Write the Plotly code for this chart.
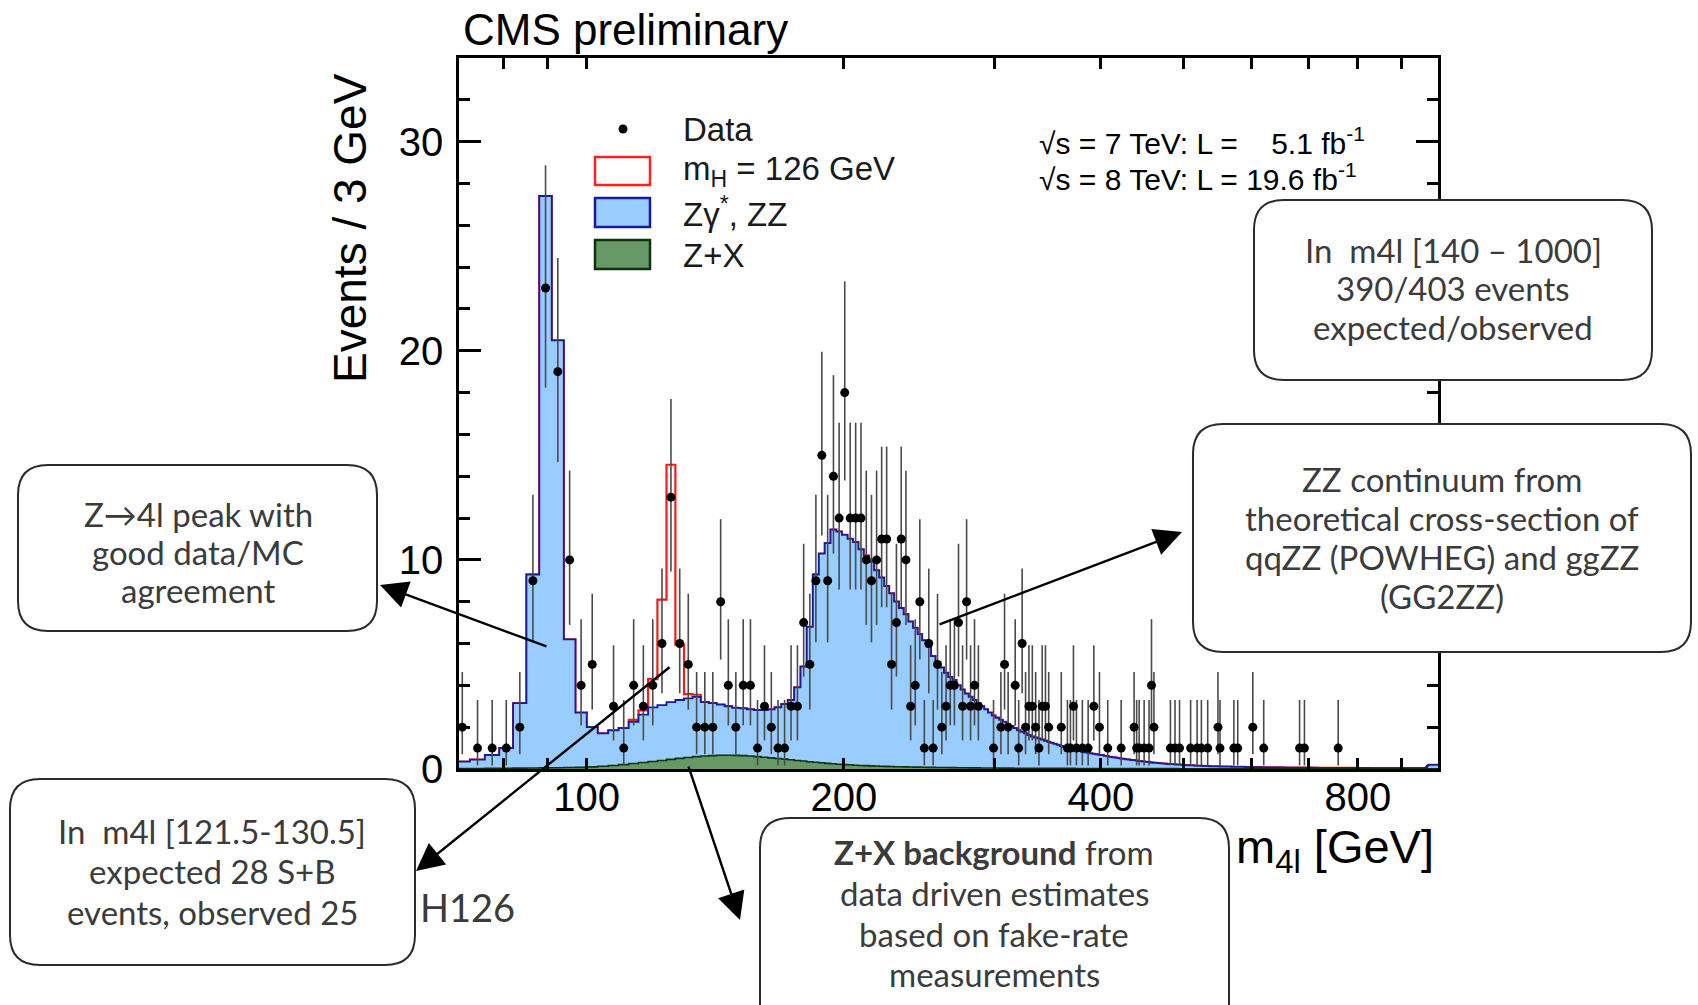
import math
import plotly.graph_objects as go

# ---------------- data ----------------
BIN_LOW = 70.0
BIN_WIDTH = 3.0

# Total background (Zgamma*, ZZ stacked on Z+X), Events / 3 GeV, bins from 70 GeV
bkg_total = [
    # 70 .. 127
    0.35, 0.45, 0.67, 1.0, 3.15, 9.3, 27.4, 20.5, 6.2, 2.7,
    2.0, 1.7, 1.85, 1.95, 2.25, 2.6, 2.95, 3.05, 3.2, 3.3,
    # 130 .. 187
    3.38, 3.45, 3.2, 3.15, 3.08, 3.0, 2.92, 2.9, 2.85, 2.82,
    2.82, 2.85, 2.95, 3.1, 3.3, 3.9, 4.9, 6.8, 9.3, 10.3,
    # 190 .. 247
    10.8, 11.45, 11.35, 11.2, 11.0, 10.85, 10.5, 10.2, 9.9, 9.5,
    9.15, 8.75, 8.4, 8.0, 7.7, 7.4, 7.05, 6.75, 6.45, 6.15,
    # 250 .. 307
    5.85, 5.4, 5.1, 4.85, 4.6, 4.4, 4.25, 4.0, 3.8, 3.6,
    3.45, 3.3, 3.15, 3.0, 2.85, 2.7, 2.55, 2.45, 2.35, 2.25,
    # 310 .. 367
    2.15, 2.05, 1.95, 1.85, 1.78, 1.7, 1.62, 1.55, 1.5, 1.45,
    1.4, 1.35, 1.3, 1.25, 1.2, 1.15, 1.1, 1.05, 1.0, 0.97,
    # 370 .. 427
    0.93, 0.9, 0.86, 0.83, 0.8, 0.77, 0.75, 0.72, 0.7, 0.68,
    0.66, 0.63, 0.61, 0.58, 0.56, 0.54, 0.52, 0.5, 0.48, 0.46,
    # 430 .. 487
    0.45, 0.43, 0.42, 0.4, 0.38, 0.37, 0.35, 0.34, 0.33, 0.31,
    0.30, 0.29, 0.28, 0.27, 0.26, 0.25, 0.24, 0.235, 0.23, 0.22,
    # 490 .. 547
    0.21, 0.205, 0.2, 0.19, 0.185, 0.18, 0.175, 0.17, 0.16, 0.155,
    0.15, 0.145, 0.14, 0.138, 0.135, 0.132, 0.13, 0.127, 0.125, 0.122,
    # 550 .. 607
    0.12, 0.118, 0.116, 0.114, 0.112, 0.11, 0.108, 0.106, 0.104, 0.102,
    0.1, 0.098, 0.097, 0.095, 0.094, 0.092, 0.091, 0.09, 0.088, 0.087,
    # 610 .. 667
    0.086, 0.085, 0.084, 0.083, 0.082, 0.081, 0.08, 0.079, 0.078, 0.077,
    0.076, 0.075, 0.074, 0.073, 0.072, 0.071, 0.07, 0.07, 0.069, 0.068,
    # 670 .. 727
    0.067, 0.067, 0.066, 0.065, 0.065, 0.064, 0.063, 0.063, 0.062, 0.062,
    0.061, 0.061, 0.06, 0.06, 0.059, 0.059, 0.058, 0.058, 0.057, 0.057,
    # 730 .. 787
    0.056, 0.056, 0.056, 0.055, 0.055, 0.054, 0.054, 0.054, 0.053, 0.053,
    0.053, 0.052, 0.052, 0.052, 0.051, 0.051, 0.051, 0.05, 0.05, 0.05,
    # 790 .. 847
    0.05, 0.049, 0.049, 0.049, 0.049, 0.048, 0.048, 0.048, 0.048, 0.047,
    0.047, 0.047, 0.047, 0.047, 0.046, 0.046, 0.046, 0.046, 0.046, 0.045,
    # 850 .. 907
    0.045, 0.045, 0.045, 0.045, 0.045, 0.044, 0.044, 0.044, 0.044, 0.044,
    0.044, 0.043, 0.043, 0.043, 0.043, 0.043, 0.043, 0.042, 0.042, 0.042,
    # 910 .. 967
    0.042, 0.042, 0.042, 0.042, 0.041, 0.041, 0.041, 0.041, 0.041, 0.041,
    0.041, 0.04, 0.04, 0.04, 0.04, 0.04, 0.04, 0.08, 0.15, 0.2,
    # 970 .. 997
    0.2, 0.2, 0.2, 0.2, 0.2, 0.2, 0.2, 0.2, 0.2, 0.2,
]

# Z+X (reducible background), Events / 3 GeV, bins from 70 GeV
zx_bkg = [
    # 70 .. 127
    0.02, 0.02, 0.03, 0.03, 0.04, 0.05, 0.06, 0.06, 0.07, 0.08,
    0.10, 0.13, 0.17, 0.21, 0.26, 0.31, 0.36, 0.41, 0.46, 0.51,
    # 130 .. 187
    0.55, 0.59, 0.62, 0.64, 0.66, 0.66, 0.65, 0.64, 0.62, 0.59,
    0.56, 0.53, 0.5, 0.47, 0.44, 0.41, 0.38, 0.35, 0.32, 0.3,
    # 190 .. 247
    0.27, 0.25, 0.23, 0.21, 0.2, 0.18, 0.17, 0.16, 0.15, 0.14,
    0.13, 0.125, 0.12, 0.11, 0.105, 0.1, 0.095, 0.09, 0.088, 0.085,
    # 250 .. 307
    0.08, 0.078, 0.075, 0.072, 0.07, 0.067, 0.065, 0.062, 0.06, 0.058,
    0.056, 0.054, 0.052, 0.05, 0.049, 0.047, 0.046, 0.045, 0.043, 0.042,
    # 310 .. 367
    0.041, 0.04, 0.039, 0.038, 0.037, 0.036, 0.036, 0.035, 0.034, 0.034,
    0.033, 0.032, 0.032, 0.031, 0.031, 0.03, 0.03, 0.029, 0.029, 0.028,
    # 370 .. 427
    0.028, 0.027, 0.027, 0.026, 0.026, 0.026, 0.025, 0.025, 0.024, 0.024,
    0.024, 0.023, 0.023, 0.023, 0.022, 0.022, 0.022, 0.021, 0.021, 0.021,
    # 430 .. 487
    0.02, 0.02, 0.02, 0.02, 0.019, 0.019, 0.019, 0.019, 0.018, 0.018,
    0.018, 0.018, 0.017, 0.017, 0.017, 0.017, 0.016, 0.016, 0.016, 0.016,
    # 490 .. 547
    0.016, 0.015, 0.015, 0.015, 0.015, 0.015, 0.014, 0.014, 0.014, 0.014,
    0.014, 0.014, 0.013, 0.013, 0.013, 0.013, 0.013, 0.013, 0.012, 0.012,
    # 550 .. 607
    0.012, 0.012, 0.012, 0.012, 0.012, 0.011, 0.011, 0.011, 0.011, 0.011,
    0.011, 0.011, 0.011, 0.01, 0.01, 0.01, 0.01, 0.01, 0.01, 0.01,
    # 610 .. 667
    0.01, 0.01, 0.009, 0.009, 0.009, 0.009, 0.009, 0.009, 0.009, 0.009,
    0.009, 0.009, 0.009, 0.008, 0.008, 0.008, 0.008, 0.008, 0.008, 0.008,
    # 670 .. 727
    0.008, 0.008, 0.008, 0.008, 0.008, 0.007, 0.007, 0.007, 0.007, 0.007,
    0.007, 0.007, 0.007, 0.007, 0.007, 0.007, 0.007, 0.007, 0.007, 0.007,
    # 730 .. 787
    0.007, 0.007, 0.007, 0.007, 0.007, 0.007, 0.007, 0.007, 0.007, 0.007,
    0.007, 0.007, 0.007, 0.007, 0.006, 0.006, 0.006, 0.006, 0.006, 0.006,
    # 790 .. 847
    0.006, 0.006, 0.006, 0.006, 0.006, 0.006, 0.006, 0.006, 0.006, 0.006,
    0.006, 0.006, 0.006, 0.006, 0.006, 0.006, 0.006, 0.006, 0.006, 0.006,
    # 850 .. 907
    0.006, 0.006, 0.006, 0.006, 0.006, 0.006, 0.006, 0.006, 0.006, 0.006,
    0.006, 0.006, 0.006, 0.006, 0.006, 0.006, 0.006, 0.005, 0.005, 0.005,
    # 910 .. 967
    0.005, 0.005, 0.005, 0.005, 0.005, 0.005, 0.005, 0.005, 0.005, 0.005,
    0.005, 0.005, 0.005, 0.005, 0.005, 0.005, 0.005, 0.005, 0.005, 0.005,
    # 970 .. 997
    0.005, 0.005, 0.005, 0.005, 0.005, 0.005, 0.005, 0.005, 0.005, 0.005,
]

# Higgs signal (mH = 126 GeV) stacked on top, bins given by their lower edge
signal_bin_low = [112, 115, 118, 121, 124, 127, 130, 133]
signal_events = [0.1, 0.2, 1.35, 5.05, 11.35, 2.65, 0.2, 0.1]

# Observed data: bin centres (GeV) and event counts
data_mass = [
    71.5, 74.5, 77.5, 80.5, 83.5, 86.5, 89.5, 92.5, 95.5, 98.5,
    101.5, 107.5, 110.5, 113.5, 116.5, 119.5, 122.5, 125.5, 128.5, 131.5,
    134.5, 137.5, 140.5, 143.5, 146.5, 149.5, 152.5, 155.5, 158.5, 161.5,
    164.5, 167.5, 170.5, 173.5, 176.5, 179.5, 182.5, 185.5, 188.5, 191.5,
    194.5, 197.5, 200.5, 203.5, 206.5, 209.5, 212.5, 215.5, 218.5, 221.5,
    224.5, 227.5, 230.5, 233.5, 236.5, 239.5, 242.5, 245.5, 248.5, 251.5,
    254.5, 257.5, 260.5, 263.5, 266.5, 269.5, 272.5, 275.5, 278.5, 281.5,
    284.5, 287.5, 299.5, 305.5, 308.5, 311.5, 317.5, 320.5, 323.5, 326.5,
    329.5, 332.5, 335.5, 338.5, 341.5, 344.5, 347.5, 359.5, 365.5, 368.5,
    371.5, 374.5, 380.5, 386.5, 392.5, 398.5, 407.5, 422.5, 437.5, 440.5,
    443.5, 449.5, 455.5, 458.5, 461.5, 482.5, 488.5, 494.5, 509.5, 518.5,
    524.5, 533.5, 548.5, 551.5, 572.5, 578.5, 602.5, 620.5, 683.5, 692.5,
    758.5,
]
data_count = [
    2, 1, 1, 1, 2, 9, 23, 19, 10, 4,
    5, 3, 1, 4, 3, 4, 6, 13, 6, 5,
    2, 2, 2, 8, 4, 2, 4, 4, 1, 3,
    2, 1, 1, 3, 3, 7, 5, 9, 15, 9,
    14, 12, 18, 12, 12, 12, 10, 9, 10, 11,
    11, 5, 7, 11, 10, 3, 4, 8, 1, 6,
    1, 5, 2, 3, 4, 4, 7, 3, 8, 3,
    4, 3, 1, 2, 5, 2, 4, 1, 6, 2,
    3, 3, 2, 1, 3, 3, 2, 2, 1, 1,
    3, 1, 1, 1, 3, 2, 1, 1, 2, 1,
    1, 1, 1, 4, 2, 1, 1, 1, 1, 1,
    1, 1, 2, 1, 1, 1, 2, 1, 1, 1,
    1,
]

x_tick_labels = ["100", "200", "400", "800"]
x_tick_values = [100, 200, 400, 800]
x_minor_values = [80, 90, 300, 500, 600, 700, 900]
y_tick_values = [0, 10, 20, 30]

# ---------------- derived ----------------
n_bins = len(bkg_total)
edges = [BIN_LOW + BIN_WIDTH * i for i in range(n_bins + 1)]
signal_full = [0.0] * n_bins
for lo, v in zip(signal_bin_low, signal_events):
    signal_full[int(round((lo - BIN_LOW) / BIN_WIDTH))] = v
sig_total = [b + s for b, s in zip(bkg_total, signal_full)]


def pois_cdf(k, mu):
    term = math.exp(-mu)
    s = term
    for i in range(1, k + 1):
        term *= mu / i
        s += term
    return s


def garwood(n, a=0.158655):
    lo, hi = float(n), n + 10 * math.sqrt(n + 1) + 10
    for _ in range(80):
        mid = 0.5 * (lo + hi)
        if pois_cdf(n, mid) > a:
            lo = mid
        else:
            hi = mid
    up = lo
    if n == 0:
        low = 0.0
    else:
        lo, hi = 0.0, float(n)
        for _ in range(80):
            mid = 0.5 * (lo + hi)
            if 1 - pois_cdf(n - 1, mid) < a:
                lo = mid
            else:
                hi = mid
        low = lo
    return low, up


err_plus, err_minus = [], []
for n in data_count:
    lo, up = garwood(n)
    err_plus.append(up - n)
    err_minus.append(n - lo)


def step(vals):
    return edges, list(vals) + [vals[-1]]


# ---------------- figure ----------------
W_FIG, H_FIG = 1698, 1005
L, R, T, B = 459, 1438, 58, 769
PW, PH = R - L, B - T


def px(x):
    return (x - L) / PW


def py(y):
    return (B - y) / PH


XR = [math.log10(70.87), math.log10(992.7)]

fig = go.Figure()

ex, ey = step(sig_total)
fig.add_trace(go.Scatter(x=ex, y=ey, mode="lines", line=dict(color="#ff1a1a", width=2.2, shape="hv"),
                         hoverinfo="skip", showlegend=False))
ex, ey = step(bkg_total)
fig.add_trace(go.Scatter(x=ex, y=ey, mode="lines", line=dict(color="#1a1a99", width=1.8, shape="hv"),
                         fill="tozeroy", fillcolor="#99ccff", hoverinfo="skip", showlegend=False))
ex, ey = step(zx_bkg)
fig.add_trace(go.Scatter(x=ex, y=ey, mode="lines", line=dict(color="#0d330d", width=1.6, shape="hv"),
                         fill="tozeroy", fillcolor="#669966", hoverinfo="skip", showlegend=False))
fig.add_trace(go.Scatter(
    x=data_mass, y=data_count, mode="markers",
    marker=dict(color="black", size=9),
    error_y=dict(type="data", symmetric=False, array=err_plus, arrayminus=err_minus,
                 width=0, thickness=1.6, color="#4a4a4a"),
    showlegend=False, hoverinfo="skip"))

TICKFONT = dict(family="Liberation Sans, Arial, sans-serif", size=40, color="black")

fig.update_layout(
    width=W_FIG, height=H_FIG,
    margin=dict(l=L, r=W_FIG - R, t=T, b=H_FIG - B),
    paper_bgcolor="white", plot_bgcolor="white",
    showlegend=False,
    xaxis=dict(type="log", range=XR, showgrid=False, zeroline=False,
               showline=True, linecolor="black", linewidth=2.5, mirror="allticks",
               tickmode="array", tickvals=x_tick_values, ticktext=x_tick_labels,
               ticks="inside", ticklen=11, tickwidth=2.5, tickcolor="black",
               minor=dict(tickmode="array", tickvals=x_minor_values, ticks="inside",
                          ticklen=11, tickwidth=2.5, tickcolor="black", showgrid=False),
               tickfont=TICKFONT, ticklabelstandoff=-9),
    xaxis2=dict(type="log", range=XR, overlaying="x", anchor="y", side="bottom",
                showgrid=False, zeroline=False, showline=False,
                tickmode="array", tickvals=[100], ticks="inside", ticklen=26, tickwidth=2.5,
                tickcolor="black", showticklabels=False),
    xaxis3=dict(type="log", range=XR, overlaying="x", anchor="y", side="top",
                showgrid=False, zeroline=False, showline=False,
                tickmode="array", tickvals=[100], ticks="inside", ticklen=26, tickwidth=2.5,
                tickcolor="black", showticklabels=False),
    yaxis=dict(range=[0, 34], showgrid=False, zeroline=False,
               showline=True, linecolor="black", linewidth=2.5, mirror="allticks",
               tickmode="array", tickvals=y_tick_values,
               ticks="inside", ticklen=22, tickwidth=2.5, tickcolor="black",
               minor=dict(dtick=2, ticks="inside", ticklen=11, tickwidth=2.5,
                          tickcolor="black", showgrid=False),
               tickfont=TICKFONT, ticklabelstandoff=5),
)

shapes = []
annotations = []

# legend (drawn manually to match the ROOT style)
shapes.append(dict(type="circle", xref="paper", yref="paper", xsizemode="pixel", ysizemode="pixel",
                   xanchor=px(623), yanchor=py(129), x0=-4.5, x1=4.5, y0=-4.5, y1=4.5,
                   fillcolor="black", line=dict(color="black", width=0)))
legend_boxes = [
    (157, 185, "white", "#ff2020"),
    (198, 227, "#99ccff", "#1a1a99"),
    (240, 269, "#669966", "#0d330d"),
]
for y0, y1, fc, lc in legend_boxes:
    shapes.append(dict(type="rect", xref="paper", yref="paper",
                       x0=px(595), x1=px(650), y0=py(y1), y1=py(y0),
                       fillcolor=fc, line=dict(color=lc, width=2.5)))
LEGFONT = dict(family="Liberation Sans, Arial, sans-serif", size=33, color="#1a1a1a")
for txt, yc in [("Data", 129), ("m<sub>H</sub> = 126 GeV", 171),
                ("Zγ<sup>*</sup>, ZZ", 212), ("Z+X", 255)]:
    annotations.append(dict(text=txt, xref="paper", yref="paper", x=px(681), y=py(yc),
                            xanchor="left", yanchor="middle", showarrow=False, font=LEGFONT))

# labels
annotations.append(dict(text="CMS preliminary", xref="paper", yref="paper", x=px(461), y=py(30),
                        xanchor="left", yanchor="middle", showarrow=False,
                        font=dict(family="Liberation Sans, Arial, sans-serif", size=44, color="black")))
annotations.append(dict(text="Events / 3 GeV", xref="paper", yref="paper", x=px(350), y=py(228),
                        textangle=-90, xanchor="center", yanchor="middle", showarrow=False,
                        font=dict(family="Liberation Sans, Arial, sans-serif", size=46, color="black")))
annotations.append(dict(text="m<sub>4l</sub> [GeV]", xref="paper", yref="paper", x=px(1436), y=py(850),
                        xanchor="right", yanchor="middle", showarrow=False,
                        font=dict(family="Liberation Sans, Arial, sans-serif", size=47, color="black")))
LUMFONT = dict(family="Liberation Sans, Arial, sans-serif", size=30, color="black")
annotations.append(dict(text="√s = 7 TeV: L =\u00a0\u00a0\u00a0 5.1 fb<sup>-1</sup>", xref="paper", yref="paper",
                        x=px(1037), y=py(141), xanchor="left", yanchor="middle", showarrow=False, font=LUMFONT))
annotations.append(dict(text="√s = 8 TeV: L = 19.6 fb<sup>-1</sup>", xref="paper", yref="paper",
                        x=px(1037), y=py(177), xanchor="left", yanchor="middle", showarrow=False, font=LUMFONT))


def rrect(x0, y0, x1, y1, r=30):
    pts = [("M", [(x0 + r, y0)]), ("L", [(x1 - r, y0)]), ("Q", [(x1, y0), (x1, y0 + r)]),
           ("L", [(x1, y1 - r)]), ("Q", [(x1, y1), (x1 - r, y1)]), ("L", [(x0 + r, y1)]),
           ("Q", [(x0, y1), (x0, y1 - r)]), ("L", [(x0, y0 + r)]), ("Q", [(x0, y0), (x0 + r, y0)])]
    s = ""
    for cmd, ps in pts:
        s += cmd + " " + " ".join("%.5f,%.5f" % (px(a), py(b)) for a, b in ps) + " "
    return s + "Z"


BOXFONT = dict(family="Lato, Open Sans, sans-serif", size=33, color="#3b3b3b")
boxes = [
    ((1254, 200, 1652, 380), 1453, [250, 288, 327],
     ["In\u00a0 m4l [140 – 1000]", "390/403 events", "expected/observed"]),
    ((1193, 424, 1691, 652), 1442, [479, 518, 557, 596],
     ["ZZ continuum from", "theoretical cross-section of", "qqZZ (POWHEG) and ggZZ", "(GG2ZZ)"]),
    ((18, 465, 377, 631), 198, [514, 552, 590],
     ["Z→4l peak with", "good data/MC", "agreement"]),
    ((10, 779, 415, 965), 212, [831, 871, 912],
     ["In\u00a0 m4l [121.5-130.5]", "expected 28 S+B", "events, observed 25"]),
    ((760, 818, 1229, 1045), 994, [852, 893, 934, 974],
     ["<b>Z+X background</b> from", "data driven estimates", "based on fake-rate", "measurements"]),
]
for (x0, y0, x1, y1), cx, ys, lines in boxes:
    shapes.append(dict(type="path", xref="paper", yref="paper", path=rrect(x0, y0, x1, y1),
                       fillcolor="white", line=dict(color="#2b2b2b", width=2)))
    for yy, txt in zip(ys, lines):
        annotations.append(dict(text=txt, xref="paper", yref="paper", x=px(cx), y=py(yy),
                                xanchor="center", yanchor="middle", showarrow=False, align="center",
                                font=BOXFONT))

annotations.append(dict(text="H126", xref="paper", yref="paper", x=px(467), y=py(907),
                        xanchor="center", yanchor="middle", showarrow=False,
                        font=dict(family="Lato, Open Sans, sans-serif", size=38, color="#3b3b3b")))

# arrows: (tail px, tip px)
arrows = [((548, 647), (380, 585)),
          ((671, 666), (416, 871)),
          ((688, 765), (740, 920)),
          ((938, 625), (1182, 532))]
for (tx, ty), (hx, hy) in arrows:
    annotations.append(dict(text="", xref="paper", yref="paper", x=px(hx), y=py(hy),
                            ax=tx - hx, ay=ty - hy, showarrow=True, arrowhead=2,
                            arrowsize=2.3, arrowwidth=2.4, arrowcolor="black", standoff=0))

fig.update_layout(shapes=shapes, annotations=annotations)
fig.write_html("out.html")
